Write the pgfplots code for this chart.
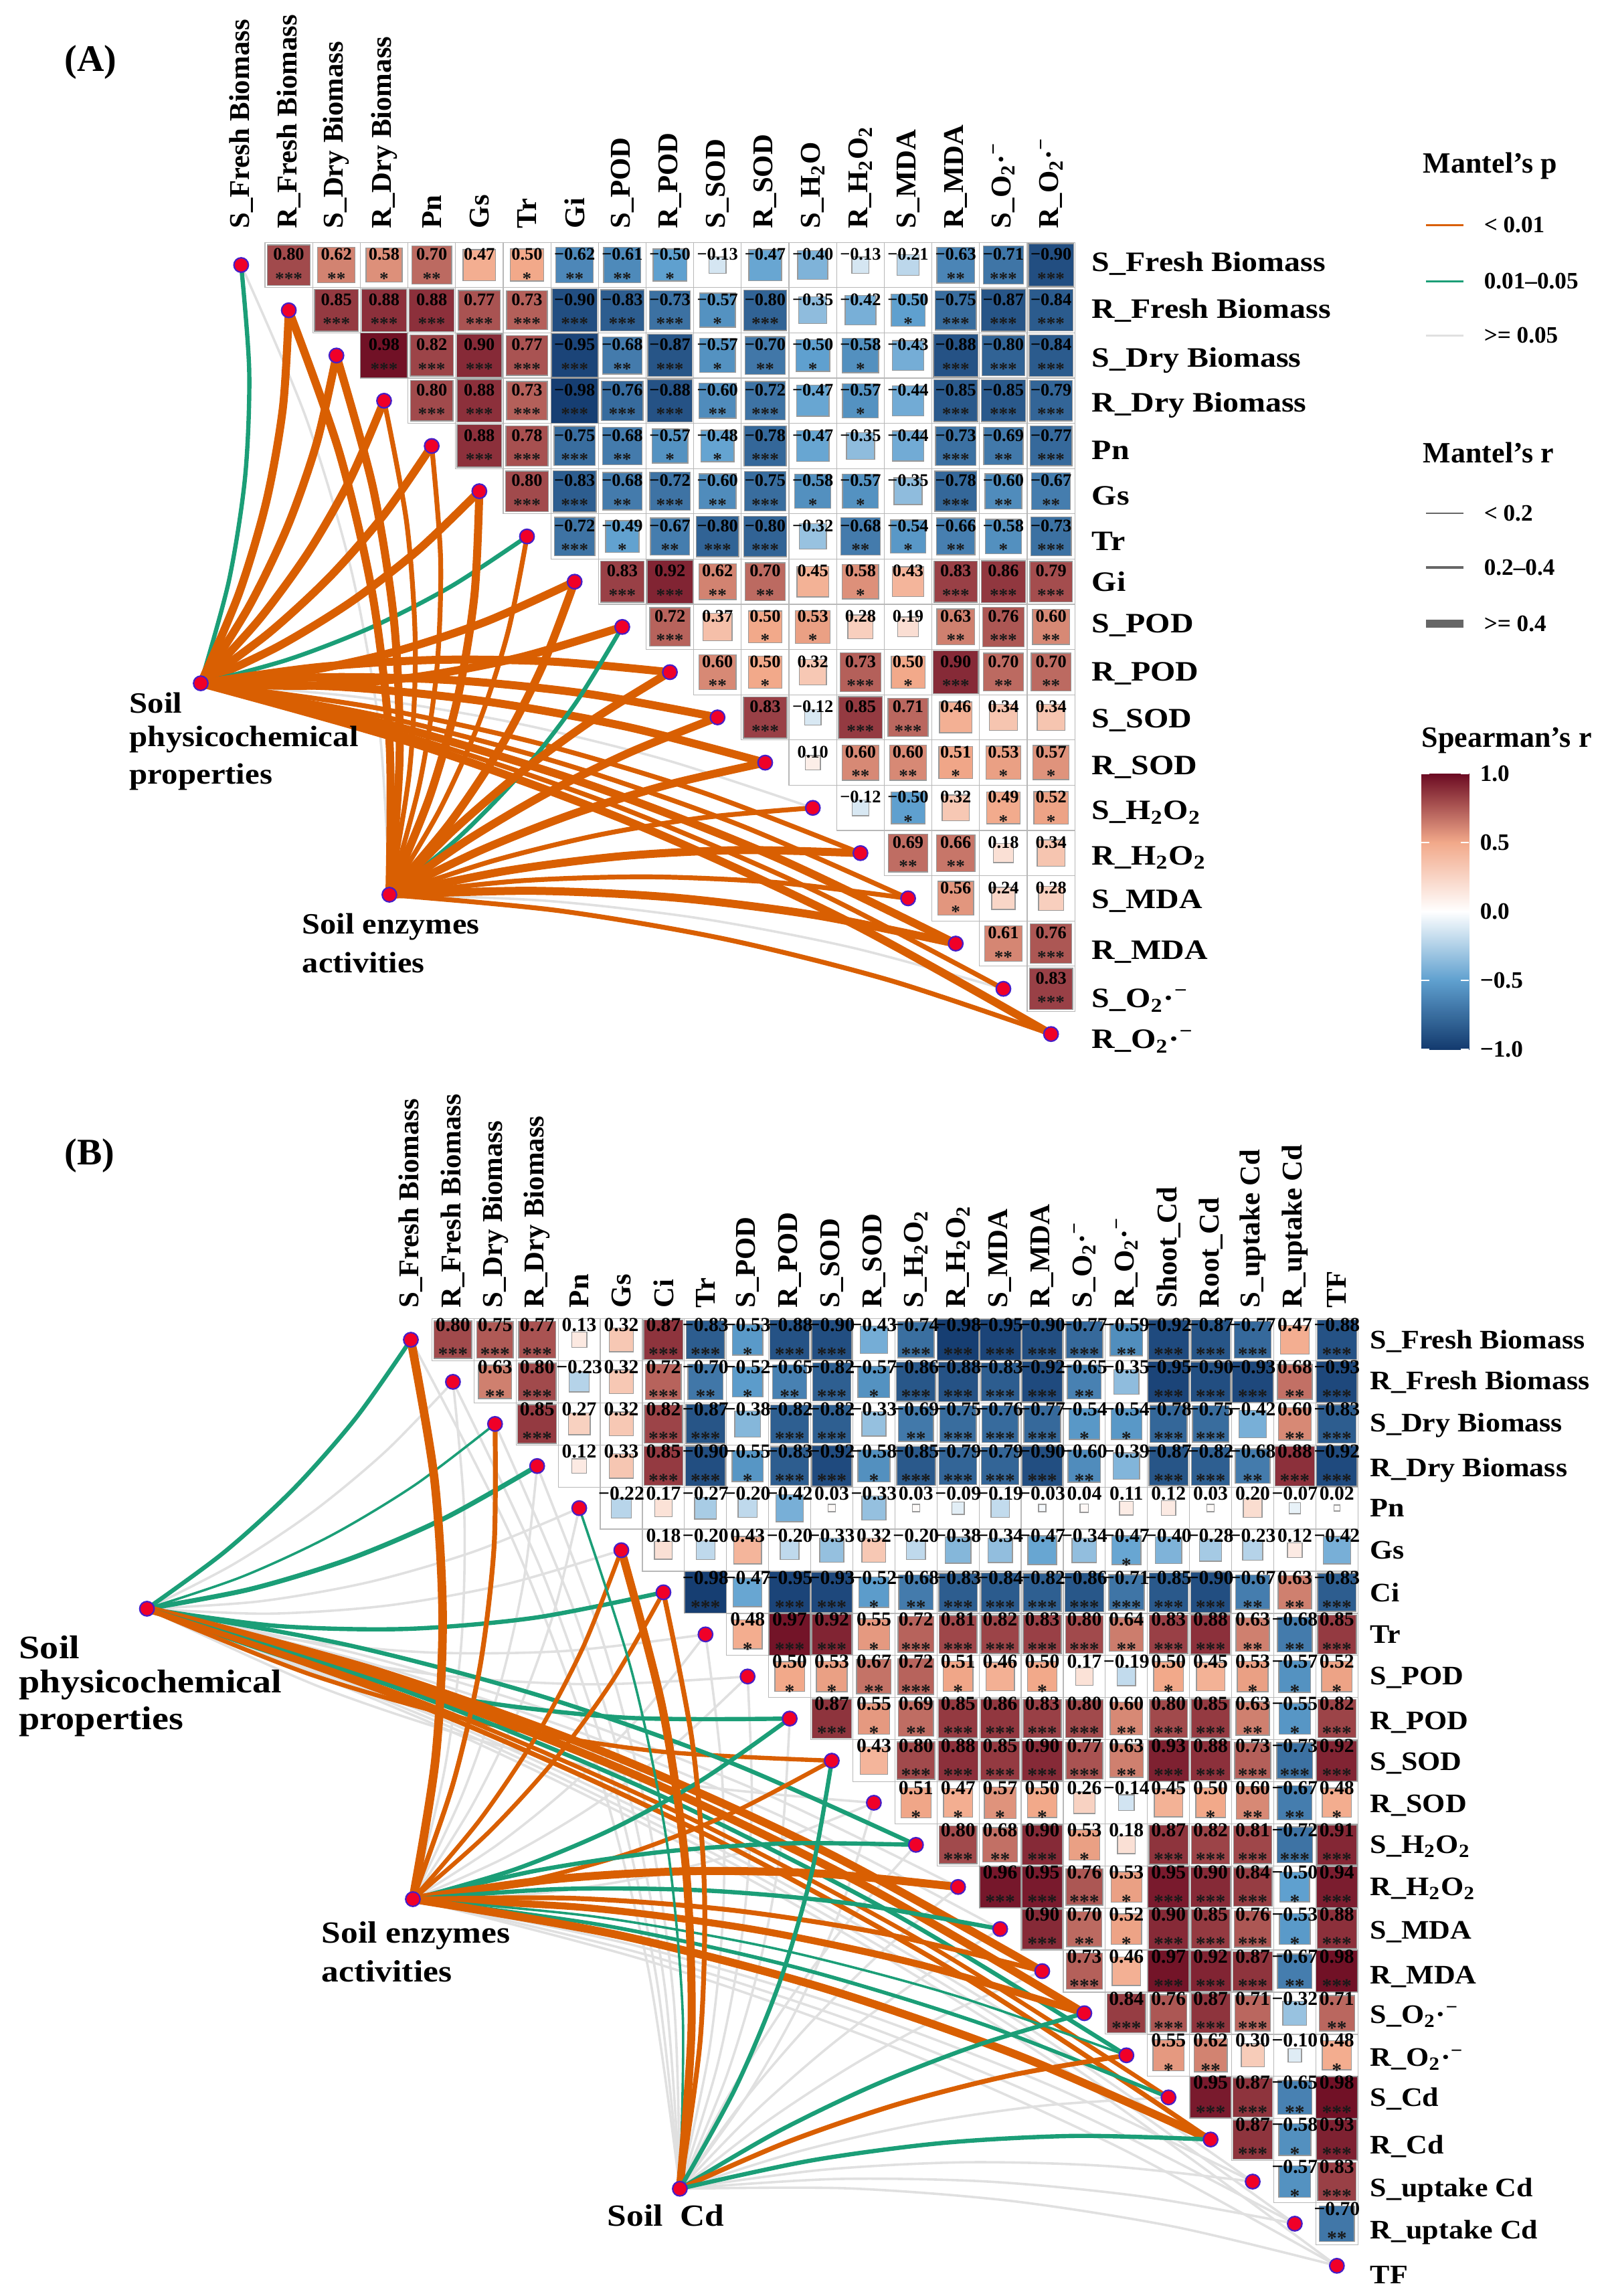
\documentclass[border=0pt]{standalone}
\usepackage{fontspec}
\setmainfont{Liberation Serif}
\usepackage{pgfplots}
\usepackage{pgfplotstable}
\pgfplotsset{compat=1.18}

\definecolor{mO}{HTML}{D95F02}
\definecolor{mG}{HTML}{1B9E77}
\definecolor{mY}{HTML}{E0E0E0}
\definecolor{nodeR}{RGB}{240,0,40}
\definecolor{nodeB}{RGB}{70,30,200}

\pgfplotsset{
  colormap={sp}{rgb255(0)=(19,58,110) rgb255(1)=(95,160,207) rgb255(2)=(255,255,255) rgb255(3)=(242,169,138) rgb255(4)=(107,10,34)},
  panel/.style={scale only axis, hide axis, clip=false, y dir=reverse, width=600pt,
    anchor=north west, colormap name=sp, point meta min=-1, point meta max=1},
  cellbox/.style n args={2}{only marks, mark=square, mark size=#1pt,
    mark options={xscale=#2, draw=black!28, line width=.3pt}},
  cellsq/.style n args={2}{scatter, only marks, mark=square*, point meta=explicit,
    mark options={xscale=#2},
    scatter/use mapped color={draw=black!40, fill=mapped color, line width=.35pt},
    scatter/@pre marker code/.append style={/tikz/mark size={sqrt(abs(\pgfplotspointmetatransformed/500-1))*#1}}},
  cellnum/.style n args={2}{only marks, mark=none, point meta=explicit,
    nodes near coords={\cellval{\pgfplotspointmetatransformed/500-1}},
    every node near coord/.append style={font=#2, inner sep=0pt, anchor=center, yshift=#1pt}},
  cellstar/.style n args={2}{only marks, mark=none, point meta=explicit symbolic,
    nodes near coords,
    every node near coord/.append style={font=\bfseries\fontsize{#2}{#2}\selectfont, text=black!90, inner sep=0pt, anchor=center, yshift=#1pt}},
  collab/.style={only marks, mark=none, point meta=explicit symbolic, nodes near coords,
    every node near coord/.append style={font=\bfseries\fontsize{10.7}{12}\selectfont, inner sep=0pt, anchor=west, rotate=90}},
  rowlab/.style n args={2}{only marks, mark=none, point meta=explicit symbolic,
    nodes near coords={\scalebox{#2}[1]{\pgfplotspointmeta}},
    every node near coord/.append style={font=\bfseries\fontsize{#1}{12}\selectfont, inner sep=0pt, anchor=west}},
  netnode/.style={only marks, mark=*, mark size=2.7pt,
    mark options={draw=nodeB, fill=nodeR, line width=.55pt}},
}

\newcommand\cellval[1]{\pgfmathsetmacro\absr{abs(#1)}\pgfmathparse{(#1)<0?1:0}\ifdim\pgfmathresult pt>0.5pt −\fi\pgfmathprintnumber[assume math mode=true,fixed,fixed zerofill,precision=2]{\absr}}

% one Mantel link: source x, source y, target index, colour, width
% the end points are the data, the inner points only bow the link:
% targets in the upper half of the list bend one way, the lower half the other
\newcommand\mlink[5]{%
  \pgfmathsetmacro\lkdx{#3-(#1)}%
  \pgfmathsetmacro\lkdy{#3-(#2)}%
  \pgfmathsetmacro\lks{#3<=\lkmid?0.055:-0.04}%
  \pgfmathsetmacro\lkbx{-\lks*\lkdy}%
  \pgfmathsetmacro\lkby{\lks*\lkdx}%
  \pgfmathsetmacro\lkax{#1+.25*\lkdx+.75*\lkbx}\pgfmathsetmacro\lkay{#2+.25*\lkdy+.75*\lkby}%
  \pgfmathsetmacro\lkmx{#1+.5*\lkdx+\lkbx}\pgfmathsetmacro\lkmy{#2+.5*\lkdy+\lkby}%
  \pgfmathsetmacro\lkcx{#1+.75*\lkdx+.75*\lkbx}\pgfmathsetmacro\lkcy{#2+.75*\lkdy+.75*\lkby}%
  \edef\lkplot{\noexpand\addplot[no marks,smooth,line cap=round,color=#4,line width=#5pt] coordinates {(#1,#2) (\lkax,\lkay) (\lkmx,\lkmy) (\lkcx,\lkcy) (#3,#3)};}\lkplot}
\newcommand\mfan[3]{\foreach \lki/\lkc/\lkw in {#3}{\mlink{#1}{#2}{\lki}{\lkc}{\lkw}}}
\newcommand\gfan[3]{\foreach \lki in {#3}{\mlink{#1}{#2}{\lki}{mY}{.9}}}
\newcommand\txt[4]{\node[anchor=west,inner sep=0pt,font=\bfseries\fontsize{#3}{#3}\selectfont] at (axis cs:#1,#2) {#4};}
\newcommand\stxt[5]{\node[anchor=west,inner sep=0pt,font=\bfseries\fontsize{#3}{#3}\selectfont] at (axis cs:#1,#2) {\scalebox{#4}[1]{#5}};}

\pgfplotstableread[row sep=\\]{
j i r s\\
1 0 0.80 ***\\ 2 0 0.62 **\\ 3 0 0.58 *\\ 4 0 0.70 **\\ 5 0 0.47 {}\\ 6 0 0.50 *\\ 7 0 -0.62 **\\ 8 0 -0.61 **\\ 9 0 -0.50 *\\ 10 0 -0.13 {}\\ 11 0 -0.47 {}\\ 12 0 -0.40 {}\\ 13 0 -0.13 {}\\ 14 0 -0.21 {}\\ 15 0 -0.63 **\\ 16 0 -0.71 ***\\ 17 0 -0.90 ***\\
2 1 0.85 ***\\ 3 1 0.88 ***\\ 4 1 0.88 ***\\ 5 1 0.77 ***\\ 6 1 0.73 ***\\ 7 1 -0.90 ***\\ 8 1 -0.83 ***\\ 9 1 -0.73 ***\\ 10 1 -0.57 *\\ 11 1 -0.80 ***\\ 12 1 -0.35 {}\\ 13 1 -0.42 {}\\ 14 1 -0.50 *\\ 15 1 -0.75 ***\\ 16 1 -0.87 ***\\ 17 1 -0.84 ***\\
3 2 0.98 ***\\ 4 2 0.82 ***\\ 5 2 0.90 ***\\ 6 2 0.77 ***\\ 7 2 -0.95 ***\\ 8 2 -0.68 **\\ 9 2 -0.87 ***\\ 10 2 -0.57 *\\ 11 2 -0.70 **\\ 12 2 -0.50 *\\ 13 2 -0.58 *\\ 14 2 -0.43 {}\\ 15 2 -0.88 ***\\ 16 2 -0.80 ***\\ 17 2 -0.84 ***\\
4 3 0.80 ***\\ 5 3 0.88 ***\\ 6 3 0.73 ***\\ 7 3 -0.98 ***\\ 8 3 -0.76 ***\\ 9 3 -0.88 ***\\ 10 3 -0.60 **\\ 11 3 -0.72 ***\\ 12 3 -0.47 {}\\ 13 3 -0.57 *\\ 14 3 -0.44 {}\\ 15 3 -0.85 ***\\ 16 3 -0.85 ***\\ 17 3 -0.79 ***\\
5 4 0.88 ***\\ 6 4 0.78 ***\\ 7 4 -0.75 ***\\ 8 4 -0.68 **\\ 9 4 -0.57 *\\ 10 4 -0.48 *\\ 11 4 -0.78 ***\\ 12 4 -0.47 {}\\ 13 4 -0.35 {}\\ 14 4 -0.44 {}\\ 15 4 -0.73 ***\\ 16 4 -0.69 **\\ 17 4 -0.77 ***\\
6 5 0.80 ***\\ 7 5 -0.83 ***\\ 8 5 -0.68 **\\ 9 5 -0.72 ***\\ 10 5 -0.60 **\\ 11 5 -0.75 ***\\ 12 5 -0.58 *\\ 13 5 -0.57 *\\ 14 5 -0.35 {}\\ 15 5 -0.78 ***\\ 16 5 -0.60 **\\ 17 5 -0.67 **\\
7 6 -0.72 ***\\ 8 6 -0.49 *\\ 9 6 -0.67 **\\ 10 6 -0.80 ***\\ 11 6 -0.80 ***\\ 12 6 -0.32 {}\\ 13 6 -0.68 **\\ 14 6 -0.54 *\\ 15 6 -0.66 **\\ 16 6 -0.58 *\\ 17 6 -0.73 ***\\
8 7 0.83 ***\\ 9 7 0.92 ***\\ 10 7 0.62 **\\ 11 7 0.70 **\\ 12 7 0.45 {}\\ 13 7 0.58 *\\ 14 7 0.43 {}\\ 15 7 0.83 ***\\ 16 7 0.86 ***\\ 17 7 0.79 ***\\
9 8 0.72 ***\\ 10 8 0.37 {}\\ 11 8 0.50 *\\ 12 8 0.53 *\\ 13 8 0.28 {}\\ 14 8 0.19 {}\\ 15 8 0.63 **\\ 16 8 0.76 ***\\ 17 8 0.60 **\\
10 9 0.60 **\\ 11 9 0.50 *\\ 12 9 0.32 {}\\ 13 9 0.73 ***\\ 14 9 0.50 *\\ 15 9 0.90 ***\\ 16 9 0.70 **\\ 17 9 0.70 **\\
11 10 0.83 ***\\ 12 10 -0.12 {}\\ 13 10 0.85 ***\\ 14 10 0.71 ***\\ 15 10 0.46 {}\\ 16 10 0.34 {}\\ 17 10 0.34 {}\\
12 11 0.10 {}\\ 13 11 0.60 **\\ 14 11 0.60 **\\ 15 11 0.51 *\\ 16 11 0.53 *\\ 17 11 0.57 *\\
13 12 -0.12 {}\\ 14 12 -0.50 *\\ 15 12 0.32 {}\\ 16 12 0.49 *\\ 17 12 0.52 *\\
14 13 0.69 **\\ 15 13 0.66 **\\ 16 13 0.18 {}\\ 17 13 0.34 {}\\
15 14 0.56 *\\ 16 14 0.24 {}\\ 17 14 0.28 {}\\
16 15 0.61 **\\ 17 15 0.76 ***\\
17 16 0.83 ***\\
}\cellsA

\pgfplotstableread[row sep=\\]{
j i r s\\
1 0 0.80 ***\\ 2 0 0.75 ***\\ 3 0 0.77 ***\\ 4 0 0.13 {}\\ 5 0 0.32 {}\\ 6 0 0.87 ***\\ 7 0 -0.83 ***\\ 8 0 -0.53 *\\ 9 0 -0.88 ***\\ 10 0 -0.90 ***\\ 11 0 -0.43 {}\\ 12 0 -0.74 ***\\ 13 0 -0.98 ***\\ 14 0 -0.95 ***\\ 15 0 -0.90 ***\\ 16 0 -0.77 ***\\ 17 0 -0.59 **\\ 18 0 -0.92 ***\\ 19 0 -0.87 ***\\ 20 0 -0.77 ***\\ 21 0 0.47 {}\\ 22 0 -0.88 ***\\
2 1 0.63 **\\ 3 1 0.80 ***\\ 4 1 -0.23 {}\\ 5 1 0.32 {}\\ 6 1 0.72 ***\\ 7 1 -0.70 **\\ 8 1 -0.52 *\\ 9 1 -0.65 **\\ 10 1 -0.82 ***\\ 11 1 -0.57 *\\ 12 1 -0.86 ***\\ 13 1 -0.88 ***\\ 14 1 -0.83 ***\\ 15 1 -0.92 ***\\ 16 1 -0.65 **\\ 17 1 -0.35 {}\\ 18 1 -0.95 ***\\ 19 1 -0.90 ***\\ 20 1 -0.93 ***\\ 21 1 0.68 **\\ 22 1 -0.93 ***\\
3 2 0.85 ***\\ 4 2 0.27 {}\\ 5 2 0.32 {}\\ 6 2 0.82 ***\\ 7 2 -0.87 ***\\ 8 2 -0.38 {}\\ 9 2 -0.82 ***\\ 10 2 -0.82 ***\\ 11 2 -0.33 {}\\ 12 2 -0.69 **\\ 13 2 -0.75 ***\\ 14 2 -0.76 ***\\ 15 2 -0.77 ***\\ 16 2 -0.54 *\\ 17 2 -0.54 *\\ 18 2 -0.78 ***\\ 19 2 -0.75 ***\\ 20 2 -0.42 {}\\ 21 2 0.60 **\\ 22 2 -0.83 ***\\
4 3 0.12 {}\\ 5 3 0.33 {}\\ 6 3 0.85 ***\\ 7 3 -0.90 ***\\ 8 3 -0.55 *\\ 9 3 -0.83 ***\\ 10 3 -0.92 ***\\ 11 3 -0.58 *\\ 12 3 -0.85 ***\\ 13 3 -0.79 ***\\ 14 3 -0.79 ***\\ 15 3 -0.90 ***\\ 16 3 -0.60 **\\ 17 3 -0.39 {}\\ 18 3 -0.87 ***\\ 19 3 -0.82 ***\\ 20 3 -0.68 **\\ 21 3 0.88 ***\\ 22 3 -0.92 ***\\
5 4 -0.22 {}\\ 6 4 0.17 {}\\ 7 4 -0.27 {}\\ 8 4 -0.20 {}\\ 9 4 -0.42 {}\\ 10 4 0.03 {}\\ 11 4 -0.33 {}\\ 12 4 0.03 {}\\ 13 4 -0.09 {}\\ 14 4 -0.19 {}\\ 15 4 -0.03 {}\\ 16 4 0.04 {}\\ 17 4 0.11 {}\\ 18 4 0.12 {}\\ 19 4 0.03 {}\\ 20 4 0.20 {}\\ 21 4 -0.07 {}\\ 22 4 0.02 {}\\
6 5 0.18 {}\\ 7 5 -0.20 {}\\ 8 5 0.43 {}\\ 9 5 -0.20 {}\\ 10 5 -0.33 {}\\ 11 5 0.32 {}\\ 12 5 -0.20 {}\\ 13 5 -0.38 {}\\ 14 5 -0.34 {}\\ 15 5 -0.47 {}\\ 16 5 -0.34 {}\\ 17 5 -0.47 *\\ 18 5 -0.40 {}\\ 19 5 -0.28 {}\\ 20 5 -0.23 {}\\ 21 5 0.12 {}\\ 22 5 -0.42 {}\\
7 6 -0.98 ***\\ 8 6 -0.47 {}\\ 9 6 -0.95 ***\\ 10 6 -0.93 ***\\ 11 6 -0.52 *\\ 12 6 -0.68 **\\ 13 6 -0.83 ***\\ 14 6 -0.84 ***\\ 15 6 -0.82 ***\\ 16 6 -0.86 ***\\ 17 6 -0.71 ***\\ 18 6 -0.85 ***\\ 19 6 -0.90 ***\\ 20 6 -0.67 **\\ 21 6 0.63 **\\ 22 6 -0.83 ***\\
8 7 0.48 *\\ 9 7 0.97 ***\\ 10 7 0.92 ***\\ 11 7 0.55 *\\ 12 7 0.72 ***\\ 13 7 0.81 ***\\ 14 7 0.82 ***\\ 15 7 0.83 ***\\ 16 7 0.80 ***\\ 17 7 0.64 **\\ 18 7 0.83 ***\\ 19 7 0.88 ***\\ 20 7 0.63 **\\ 21 7 -0.68 **\\ 22 7 0.85 ***\\
9 8 0.50 *\\ 10 8 0.53 *\\ 11 8 0.67 **\\ 12 8 0.72 ***\\ 13 8 0.51 *\\ 14 8 0.46 {}\\ 15 8 0.50 *\\ 16 8 0.17 {}\\ 17 8 -0.19 {}\\ 18 8 0.50 *\\ 19 8 0.45 {}\\ 20 8 0.53 *\\ 21 8 -0.57 *\\ 22 8 0.52 *\\
10 9 0.87 ***\\ 11 9 0.55 *\\ 12 9 0.69 **\\ 13 9 0.85 ***\\ 14 9 0.86 ***\\ 15 9 0.83 ***\\ 16 9 0.80 ***\\ 17 9 0.60 **\\ 18 9 0.80 ***\\ 19 9 0.85 ***\\ 20 9 0.63 **\\ 21 9 -0.55 *\\ 22 9 0.82 ***\\
11 10 0.43 {}\\ 12 10 0.80 ***\\ 13 10 0.88 ***\\ 14 10 0.85 ***\\ 15 10 0.90 ***\\ 16 10 0.77 ***\\ 17 10 0.63 **\\ 18 10 0.93 ***\\ 19 10 0.88 ***\\ 20 10 0.73 ***\\ 21 10 -0.73 ***\\ 22 10 0.92 ***\\
12 11 0.51 *\\ 13 11 0.47 *\\ 14 11 0.57 *\\ 15 11 0.50 *\\ 16 11 0.26 {}\\ 17 11 -0.14 {}\\ 18 11 0.45 {}\\ 19 11 0.50 *\\ 20 11 0.60 **\\ 21 11 -0.67 **\\ 22 11 0.48 *\\
13 12 0.80 ***\\ 14 12 0.68 **\\ 15 12 0.90 ***\\ 16 12 0.53 *\\ 17 12 0.18 {}\\ 18 12 0.87 ***\\ 19 12 0.82 ***\\ 20 12 0.81 ***\\ 21 12 -0.72 ***\\ 22 12 0.91 ***\\
14 13 0.96 ***\\ 15 13 0.95 ***\\ 16 13 0.76 ***\\ 17 13 0.53 *\\ 18 13 0.95 ***\\ 19 13 0.90 ***\\ 20 13 0.84 ***\\ 21 13 -0.50 *\\ 22 13 0.94 ***\\
15 14 0.90 ***\\ 16 14 0.70 **\\ 17 14 0.52 *\\ 18 14 0.90 ***\\ 19 14 0.85 ***\\ 20 14 0.76 ***\\ 21 14 -0.53 *\\ 22 14 0.88 ***\\
16 15 0.73 ***\\ 17 15 0.46 {}\\ 18 15 0.97 ***\\ 19 15 0.92 ***\\ 20 15 0.87 ***\\ 21 15 -0.67 **\\ 22 15 0.98 ***\\
17 16 0.84 ***\\ 18 16 0.76 ***\\ 19 16 0.87 ***\\ 20 16 0.71 ***\\ 21 16 -0.32 {}\\ 22 16 0.71 **\\
18 17 0.55 *\\ 19 17 0.62 **\\ 20 17 0.30 {}\\ 21 17 -0.10 {}\\ 22 17 0.48 *\\
19 18 0.95 ***\\ 20 18 0.87 ***\\ 21 18 -0.65 **\\ 22 18 0.98 ***\\
20 19 0.87 ***\\ 21 19 -0.58 *\\ 22 19 0.93 ***\\
21 20 -0.57 *\\ 22 20 0.83 ***\\
22 21 -0.70 **\\
}\cellsB

\pgfplotstableread[row sep=\\]{
k cy rx ry a b\\
0 -0.8 17.85 -0.03 {S\_Fresh Biomass} {S\_Fresh Biomass}\\
1 -0.8 17.85 1 {R\_Fresh Biomass} {R\_Fresh Biomass}\\
2 -0.8 17.85 2.10 {S\_Dry Biomass} {S\_Dry Biomass}\\
3 -0.8 17.85 3.10 {R\_Dry Biomass} {R\_Dry Biomass}\\
4 -0.8 17.85 4.10 Pn Pn\\
5 -0.8 17.85 5.10 Gs Gs\\
6 -0.8 17.85 6.10 Tr Tr\\
7 -0.8 17.85 7 Gi Gi\\
8 -0.8 17.85 7.97 {S\_POD} {S\_POD}\\
9 -0.8 17.85 9.03 {R\_POD} {R\_POD}\\
10 -0.8 17.85 10.06 {S\_SOD} {S\_SOD}\\
11 -0.8 17.85 11.10 {R\_SOD} {R\_SOD}\\
12 -0.8 17.85 12.10 {S\_H\textsubscript{2}O} {S\_H\textsubscript{2}O\textsubscript{2}}\\
13 -0.8 17.85 13.10 {R\_H\textsubscript{2}O\textsubscript{2}} {R\_H\textsubscript{2}O\textsubscript{2}}\\
14 -0.8 17.85 14.06 {S\_MDA} {S\_MDA}\\
15 -0.8 17.85 15.19 {R\_MDA} {R\_MDA}\\
16 -0.8 17.85 16.26 {S\_O\textsubscript{2}·\textsuperscript{−}} {S\_O\textsubscript{2}·\textsuperscript{−}}\\
17 -0.8 17.85 17.16 {R\_O\textsubscript{2}·\textsuperscript{−}} {R\_O\textsubscript{2}·\textsuperscript{−}}\\
}\labA

\pgfplotstableread[row sep=\\]{
k cy rx ry a b\\
0 -0.75 22.78 0.035 {S\_Fresh Biomass} {S\_Fresh Biomass}\\
1 -0.75 22.78 1 {R\_Fresh Biomass} {R\_Fresh Biomass}\\
2 -0.75 22.78 2.035 {S\_Dry Biomass} {S\_Dry Biomass}\\
3 -0.75 22.78 3.10 {R\_Dry Biomass} {R\_Dry Biomass}\\
4 -0.75 22.78 4 Pn Pn\\
5 -0.75 22.78 5 Gs Gs\\
6 -0.75 22.78 6 Ci Ci\\
7 -0.75 22.78 7 Tr Tr\\
8 -0.75 22.78 8.035 {S\_POD} {S\_POD}\\
9 -0.75 22.78 9.10 {R\_POD} {R\_POD}\\
10 -0.75 22.78 10.07 {S\_SOD} {S\_SOD}\\
11 -0.75 22.78 11.07 {R\_SOD} {R\_SOD}\\
12 -0.75 22.78 12.035 {S\_H\textsubscript{2}O\textsubscript{2}} {S\_H\textsubscript{2}O\textsubscript{2}}\\
13 -0.75 22.78 13.035 {R\_H\textsubscript{2}O\textsubscript{2}} {R\_H\textsubscript{2}O\textsubscript{2}}\\
14 -0.75 22.78 14.07 {S\_MDA} {S\_MDA}\\
15 -0.75 22.78 15.14 {R\_MDA} {R\_MDA}\\
16 -0.75 22.78 16.07 {S\_O\textsubscript{2}·\textsuperscript{−}} {S\_O\textsubscript{2}·\textsuperscript{−}}\\
17 -0.75 22.78 17.10 {R\_O\textsubscript{2}·\textsuperscript{−}} {R\_O\textsubscript{2}·\textsuperscript{−}}\\
18 -0.75 22.78 18.035 {Shoot\_Cd} {S\_Cd}\\
19 -0.75 22.78 19.17 {Root\_Cd} {R\_Cd}\\
20 -0.75 22.78 20.21 {S\_uptake Cd} {S\_uptake Cd}\\
21 -0.75 22.78 21.21 {R\_uptake Cd} {R\_uptake Cd}\\
22 -0.75 22.78 22.21 TF TF\\
}\labB

\begin{document}
\begin{tikzpicture}
\useasboundingbox (0,0) rectangle (600pt,-857.75pt);

% panel A, x and y are matrix indices
\begin{axis}[panel, at={(0pt,0pt)}, height=422.5pt,
  xmin=-5.062, xmax=28.65, ymin=-5.858, ymax=19.142]
  \def\lkmid{8}
  \gfan{-0.848}{9.246}{12}
  \gfan{3.112}{13.92}{0,16}
  \mfan{-0.848}{9.246}{0/mG/1.6,1/mO/3,2/mO/3,3/mO/3,4/mO/3,5/mO/3,6/mG/1.6,7/mO/3,8/mO/3,9/mO/3,10/mO/3,11/mO/3,13/mO/1.8,14/mO/1.8,15/mO/3,16/mO/1.8,17/mO/3}
  \mfan{3.112}{13.92}{1/mO/3,2/mO/3,3/mO/1.8,4/mO/1.8,5/mO/3,6/mO/1.8,7/mO/3,8/mG/1.6,9/mO/3,10/mO/3,11/mO/3,12/mO/1.8,13/mO/3,14/mO/1.8,15/mO/3,17/mO/1.8}
  \addplot[netnode] coordinates {(0,0)(1,1)(2,2)(3,3)(4,4)(5,5)(6,6)(7,7)(8,8)(9,9)(10,10)(11,11)(12,12)(13,13)(14,14)(15,15)(16,16)(17,17)(-0.848,9.246)(3.112,13.92)};
  \addplot[cellbox={8.45}{1.053}] table[x=j,y=i] {\cellsA};
  \addplot[cellsq={8.45}{1.053}] table[x=j,y=i,meta=r] {\cellsA};
  \addplot[cellnum={4}{\bfseries\fontsize{6.6}{7}\selectfont}] table[x=j,y=i,meta=r] {\cellsA};
  \addplot[cellstar={-5}{6.8}] table[x=j,y=i,meta=s] {\cellsA};
  \addplot[collab] table[x=k,y=cy,meta=a] {\labA};
  \addplot[rowlab={10.5}{1.14}] table[x=rx,y=ry,meta=b] {\labA};
\end{axis}

% panel B
\begin{axis}[panel, at={(0pt,-422.5pt)}, height=435.25pt,
  xmin=-9.761, xmax=28.394, ymin=-4.96, ymax=22.719]
  \def\lkmid{11}
  \gfan{-6.27}{6.39}{1,4,5,7,8,11,13,14,20,21,22}
  \gfan{0.048}{13.29}{1,3,4,7,8,11,20,21,22}
  \gfan{6.39}{20.17}{0,1,2,3,7,8,9,11,12,13,14,15,18,20,21,22}
  \mfan{-6.27}{6.39}{0/mG/1.6,2/mG/.9,3/mG/1.8,6/mG/1.6,9/mG/1.6,10/mO/1.6,12/mG/1.6,15/mO/3,16/mO/3,17/mG/1.6,18/mO/1.6,19/mO/1.8}
  \mfan{0.048}{13.29}{0/mO/3.2,2/mO/1.8,5/mO/1.6,6/mO/1.6,9/mG/1.6,10/mO/1.6,12/mG/1.6,13/mO/3,14/mG/1.6,15/mO/1.8,16/mO/2.6,17/mG/.9,18/mG/1.4,19/mO/3}
  \mfan{6.39}{20.17}{4/mG/.9,5/mO/3,6/mO/1.8,10/mG/1.6,16/mG/1.6,17/mO/1.8,19/mG/1.6}
  \addplot[netnode] coordinates {(0,0)(1,1)(2,2)(3,3)(4,4)(5,5)(6,6)(7,7)(8,8)(9,9)(10,10)(11,11)(12,12)(13,13)(14,14)(15,15)(16,16)(17,17)(18,18)(19,19)(20,20)(21,21)(22,22)(-6.27,6.39)(0.048,13.29)(6.39,20.17)};
  \addplot[cellbox={7.86}{1}] table[x=j,y=i] {\cellsB};
  \addplot[cellsq={7.86}{1}] table[x=j,y=i,meta=r] {\cellsB};
  \addplot[cellnum={5.5}{\bfseries\fontsize{7.4}{8}\selectfont}] table[x=j,y=i,meta=r] {\cellsB};
  \addplot[cellstar={-5.5}{7.4}] table[x=j,y=i,meta=s] {\cellsB};
  \addplot[collab] table[x=k,y=cy,meta=a] {\labB};
  \addplot[rowlab={10}{1.1}] table[x=rx,y=ry,meta=b] {\labB};
\end{axis}

% page-wide layer in image pixels for letters, source names and the key
\begin{axis}[panel, at={(0pt,0pt)}, height=857.75pt,
  xmin=0, xmax=2400, ymin=0, ymax=3431]
  \txt{96}{93}{14}{(A)}
  \txt{96}{1727}{14}{(B)}
  \stxt{193}{1050}{11}{1.11}{Soil}
  \stxt{193}{1105}{11}{1.11}{physicochemical}
  \stxt{193}{1161}{11}{1.11}{properties}
  \stxt{451}{1385}{11}{1.1}{Soil enzymes}
  \stxt{451}{1438}{11}{1.1}{activities}
  \stxt{28}{2462}{12.3}{1.14}{Soil}
  \stxt{28}{2518}{12.3}{1.14}{physicochemical}
  \stxt{28}{2573}{12.3}{1.14}{properties}
  \stxt{480}{2892}{11.5}{1.12}{Soil enzymes}
  \stxt{480}{2946}{11.5}{1.12}{activities}
  \stxt{907}{3311}{11.5}{1.12}{Soil\ \ Cd}
  \txt{2126}{248}{11}{Mantel’s p}
  \txt{2126}{676}{11}{Mantel’s r}
  \txt{2124}{1106}{11}{Spearman’s r}
  \addplot[no marks,color=mO,line width=.75pt] coordinates {(2131,336)(2187,336)};
  \addplot[no marks,color=mG,line width=.75pt] coordinates {(2131,420)(2187,420)};
  \addplot[no marks,color=mY,line width=.75pt] coordinates {(2131,501)(2187,501)};
  \addplot[no marks,color=black!60,line width=.6pt] coordinates {(2131,767)(2187,767)};
  \addplot[no marks,color=black!60,line width=1.2pt] coordinates {(2131,848)(2187,848)};
  \addplot[no marks,color=black!60,line width=3pt] coordinates {(2131,932)(2187,932)};
  \txt{2217}{336}{8.8}{< 0.01}
  \txt{2217}{420}{8.8}{0.01–0.05}
  \txt{2217}{501}{8.8}{>= 0.05}
  \txt{2217}{767}{8.8}{< 0.2}
  \txt{2217}{848}{8.8}{0.2–0.4}
  \txt{2217}{932}{8.8}{>= 0.4}
\end{axis}

% colour key
\begin{axis}[scale only axis, anchor=north west, at={(531pt,-289pt)},
  width=17.75pt, height=103pt, colormap name=sp, point meta min=-1, point meta max=1,
  view={0}{90}, xmin=0, xmax=1, ymin=-1, ymax=1, clip=false,
  axis line style={draw=none}, xtick=\empty, ytick={-1,-0.5,0,0.5,1},
  yticklabels={−1.0,−0.5,0.0,0.5,1.0}, yticklabel pos=right,
  major tick length=3pt, y tick style={color=white,line width=.4pt},
  y tick label style={font=\bfseries\fontsize{8.8}{9}\selectfont, inner sep=0pt, xshift=4pt}]
  \addplot3[surf, shader=interp, point meta=y] coordinates {
    (0,-1,0) (1,-1,0)

    (0,-0.5,0) (1,-0.5,0)

    (0,0,0) (1,0,0)

    (0,0.5,0) (1,0.5,0)

    (0,1,0) (1,1,0)
  };
\end{axis}
\end{tikzpicture}
\end{document}
